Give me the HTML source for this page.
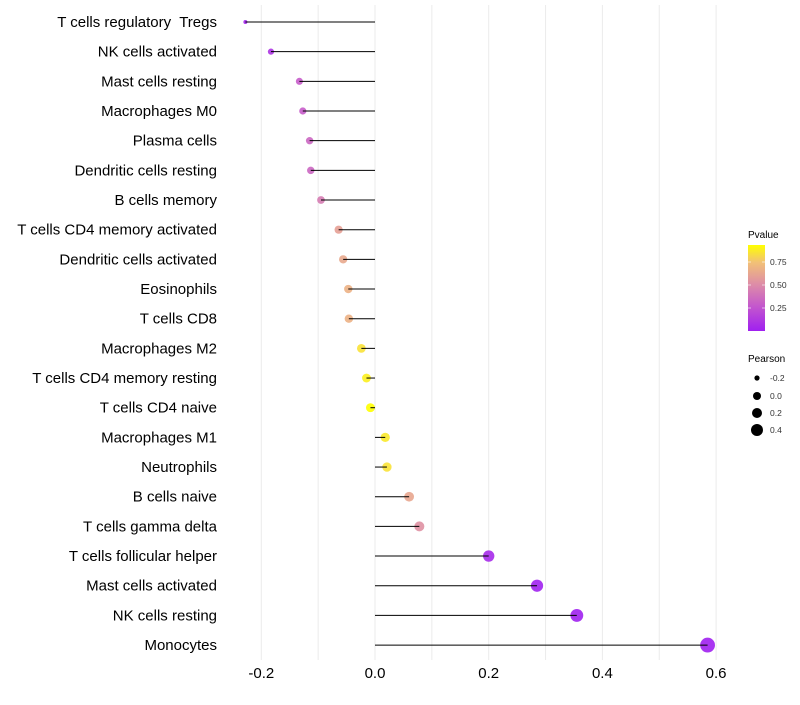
<!DOCTYPE html>
<html><head><meta charset="utf-8"><style>
body{margin:0;background:#fff;font-family:"Liberation Sans",sans-serif}
</style></head><body>
<svg id="chart" width="800" height="700" xmlns="http://www.w3.org/2000/svg" font-family="Liberation Sans, sans-serif">
<defs>
<linearGradient id="pg" x1="0" y1="1" x2="0" y2="0">
<stop offset="0" stop-color="#A020F0"/><stop offset="0.3" stop-color="#C55ACB"/><stop offset="0.55" stop-color="#DE8EA6"/><stop offset="0.8" stop-color="#F2C176"/><stop offset="1" stop-color="#FFFF00"/>
</linearGradient>
</defs>
<g id="grid"></g><g id="marks"></g><g id="ylabels"></g><g id="xlabels"></g>
<g>
<text x="748" y="238" font-size="10" fill="#000">Pvalue</text>
<rect x="748" y="245" width="17" height="86" fill="url(#pg)"/>
<line x1="748" x2="751" y1="262" y2="262" stroke="#fff" stroke-opacity="0.6"/><line x1="762" x2="765" y1="262" y2="262" stroke="#fff" stroke-opacity="0.6"/>
<line x1="748" x2="751" y1="285" y2="285" stroke="#fff" stroke-opacity="0.6"/><line x1="762" x2="765" y1="285" y2="285" stroke="#fff" stroke-opacity="0.6"/>
<line x1="748" x2="751" y1="308" y2="308" stroke="#fff" stroke-opacity="0.6"/><line x1="762" x2="765" y1="308" y2="308" stroke="#fff" stroke-opacity="0.6"/>
<text x="770" y="265" font-size="8.5" fill="#333">0.75</text>
<text x="770" y="288" font-size="8.5" fill="#333">0.50</text>
<text x="770" y="311" font-size="8.5" fill="#333">0.25</text>
</g>
<g>
<text x="748" y="362" font-size="10" fill="#000">Pearson</text>
<circle cx="757" cy="378" r="2.6" fill="#000"/><text x="770" y="381" font-size="8.5" fill="#333">-0.2</text>
<circle cx="757" cy="396" r="4" fill="#000"/><text x="770" y="399" font-size="8.5" fill="#333">0.0</text>
<circle cx="757" cy="413" r="5" fill="#000"/><text x="770" y="416" font-size="8.5" fill="#333">0.2</text>
<circle cx="757" cy="430" r="6" fill="#000"/><text x="770" y="433" font-size="8.5" fill="#333">0.4</text>
</g>
</svg>
<script>
const categories=["T cells regulatory  Tregs","NK cells activated","Mast cells resting","Macrophages M0","Plasma cells","Dendritic cells resting","B cells memory","T cells CD4 memory activated","Dendritic cells activated","Eosinophils","T cells CD8","Macrophages M2","T cells CD4 memory resting","T cells CD4 naive","Macrophages M1","Neutrophils","B cells naive","T cells gamma delta","T cells follicular helper","Mast cells activated","NK cells resting","Monocytes"];
const pearson=[-0.228,-0.183,-0.133,-0.127,-0.115,-0.113,-0.095,-0.064,-0.056,-0.047,-0.046,-0.024,-0.015,-0.008,0.018,0.021,0.060,0.078,0.200,0.285,0.355,0.585];
const pvalues=[0.02,0.1,0.3,0.3,0.35,0.35,0.45,0.62,0.66,0.7,0.7,0.88,0.92,0.97,0.9,0.88,0.65,0.55,0.05,0.01,0.003,0.0001];
const xTicks=[-0.2,0.0,0.2,0.4,0.6];
const xTickLabels=["-0.2","0.0","0.2","0.4","0.6"];
const gridVals=[-0.2,-0.1,0,0.1,0.2,0.3,0.4,0.5,0.6];

const NS="http://www.w3.org/2000/svg";
const x=v=>375+v*568.5;
const y=i=>22+i*29.67;
const stops=[[0,[160,32,240]],[0.3,[197,90,203]],[0.55,[222,142,166]],[0.8,[242,193,118]],[1,[255,255,0]]];
function col(p){const t=Math.min(1,Math.max(0,(p-0.0001)/0.97));for(let k=1;k<stops.length;k++){if(t<=stops[k][0]){const a=stops[k-1],b=stops[k],f=(t-a[0])/(b[0]-a[0]);return "rgb("+a[1].map((c,j)=>Math.round(c+(b[1][j]-c)*f)).join(",")+")";}}return "rgb(255,255,0)";}
const pMin=Math.min(...pearson),pMax=Math.max(...pearson);
const rad=v=>Math.sqrt(4+48*(v-pMin)/(pMax-pMin)+ (v>pMin?3:0));
function mk(t,a,p){const e=document.createElementNS(NS,t);for(const k in a)e.setAttribute(k,a[k]);p.appendChild(e);return e;}
const G=document.getElementById("grid"),M=document.getElementById("marks"),YL=document.getElementById("ylabels"),XL=document.getElementById("xlabels");
gridVals.forEach(v=>{const l=mk("line",{x1:x(v),x2:x(v),y1:5,y2:660,stroke:"#ebebeb","stroke-width":1},G);

});
categories.forEach((c,i)=>{
 const dot=mk("circle",{cx:x(pearson[i]),cy:y(i),r:rad(pearson[i]),fill:col(pvalues[i]),"fill-opacity":0.9},M);
 
 
 const seg=mk("line",{x1:x(0),x2:x(pearson[i]),y1:y(i),y2:y(i),stroke:"#000","stroke-width":1},M);
 
 
 const t=mk("text",{x:217,y:y(i)+5,"text-anchor":"end","font-size":"15",fill:"#000"},YL);
 t.textContent=c;t.setAttribute("xml:space","preserve");t.style.whiteSpace="pre";
 
 
});
xTicks.forEach((v,i)=>{const t=mk("text",{x:x(v),y:678,"text-anchor":"middle","font-size":"15",fill:"#000"},XL);t.textContent=xTickLabels[i];

});
</script>
</body></html>
